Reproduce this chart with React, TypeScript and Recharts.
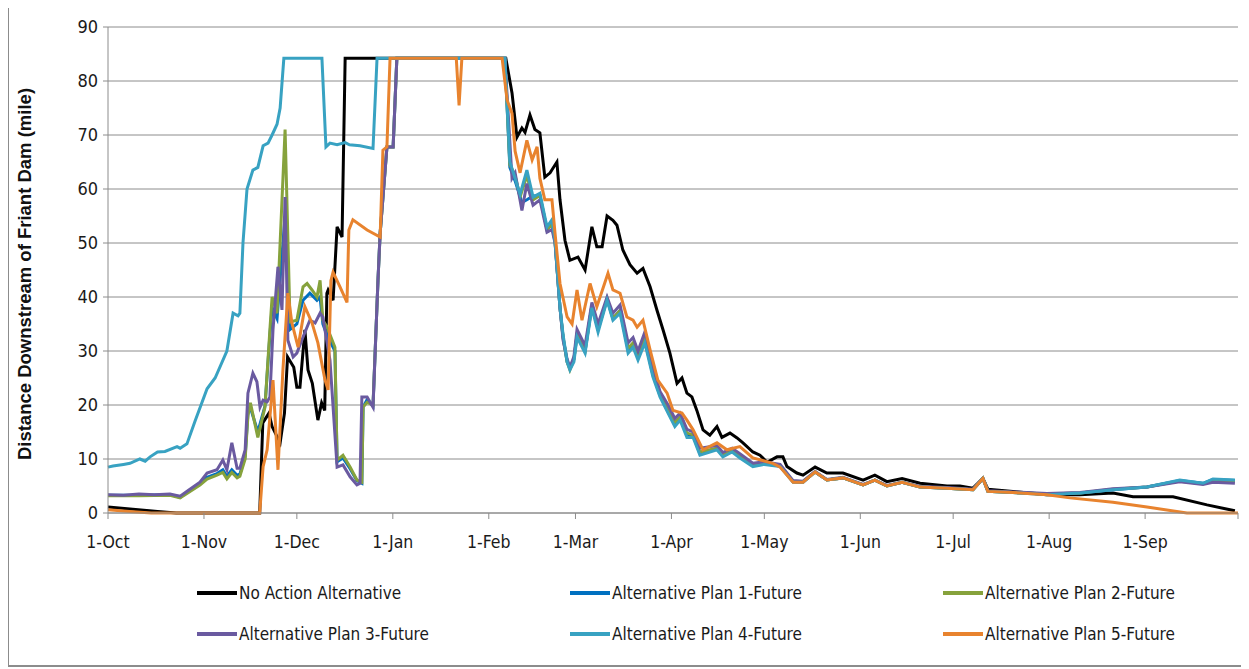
import { LineChart, Line, XAxis, YAxis, CartesianGrid } from 'recharts';

type Pt = [number, number];

// day 0 = 1-Oct
const monthTicks = [0, 31, 61, 92, 123, 151, 182, 212, 243, 273, 304, 335, 365];
const monthLabels = ['1-Oct', '1-Nov', '1-Dec', '1-Jan', '1-Feb', '1-Mar', '1-Apr', '1-May', '1-Jun', '1-Jul', '1-Aug', '1-Sep', ''];
const yTicks = [0, 10, 20, 30, 40, 50, 60, 70, 80, 90];

const noAction: Pt[] = [
  [0, 1.1], [8, 0.7], [16, 0.3], [22, 0], [49, 0], [50, 16.7], [52, 18.5], [53, 16], [55.6, 13], [57, 18.5],
  [58, 28.9], [60, 27], [61, 23.3], [62, 23.3], [63.6, 33.9], [64.6, 26.5], [66, 24], [67.8, 17.2], [69, 20.4],
  [70, 19], [70.7, 40.7], [71.1, 41.3], [72.7, 39.4], [73.3, 45.6], [74, 53], [75.6, 51.1], [76.6, 84.2],
  [128.5, 84.2], [130.5, 77.8], [132.1, 69.6], [133.7, 71.3], [134.7, 70.5], [136.3, 73.7], [137.9, 71],
  [139.5, 70.4], [141.1, 62.2], [142.8, 63], [145, 65], [146, 58], [147.6, 50.5], [149.2, 46.8], [151.8, 47.4],
  [154.1, 45], [156.3, 53], [157.9, 49.3], [159.6, 49.3], [161.2, 55], [163.1, 54.2], [164.4, 53.3],
  [166.3, 48.7], [168.6, 46], [170.9, 44.4], [172.8, 45.3], [175.1, 41.9], [177.3, 37.6], [179.3, 33.9],
  [181.5, 29.6], [183.8, 24], [185.4, 25], [187, 22.2], [188.6, 21.5], [190.2, 19], [192.2, 15.4],
  [194.4, 14.4], [196.7, 16], [198.3, 14], [200.9, 14.8], [203.2, 13.9], [205.1, 13], [208.3, 11.3],
  [210.6, 10.7], [212.9, 9.4], [216.1, 10.4], [218, 10.4], [219.3, 8.6], [222.5, 7.4], [224.5, 7],
  [228.4, 8.5], [232.2, 7.4], [237.4, 7.4], [243.9, 6.1], [247.7, 7], [251.6, 5.8], [256.5, 6.4],
  [262.3, 5.5], [271, 5], [275.2, 5], [279.4, 4.6], [282.6, 6.4], [284.2, 4.4], [292.3, 4], [303.3, 3.4],
  [314, 3.4], [324.6, 3.7], [331.1, 3], [344, 3], [355, 1.5], [364, 0.4],
];

const plan1: Pt[] = [
  [0, 3.3], [10, 3.3], [20, 3.4], [23.3, 2.9], [26, 4], [29.7, 5.4], [32, 6.6], [35.2, 7.3], [37.1, 8],
  [38.4, 6.8], [40, 8], [41.7, 7], [42.6, 7.2], [44.3, 10.5], [45.2, 18.5], [46, 19.5], [48.4, 15],
  [50.7, 19.8], [52.3, 33], [53, 38], [54.6, 36], [57.2, 55], [58.8, 34], [61, 35], [63, 39.4], [65.2, 40.7],
  [67.5, 39.4], [68.5, 40], [69.4, 35], [70.7, 33], [73.3, 30], [74, 9.5], [75.9, 10.2], [78.2, 8.2],
  [80.4, 6], [82, 5.5], [82.4, 19.6], [83.7, 21], [85.6, 19.8], [87.2, 43], [87.9, 51.8], [90.1, 67.8],
  [92.1, 67.8], [93.3, 84.2], [128.2, 84.2], [129.8, 64], [131.5, 61.5], [133.7, 57.5], [135.3, 58],
  [137.3, 58.7], [139.5, 58.8], [141.8, 52.5], [143.4, 53.5], [144.4, 50.2], [146, 38], [147, 32.5],
  [148.3, 28], [149.2, 26.8], [150.5, 28.5], [151.5, 33], [154.1, 30], [156.3, 38.5], [158.3, 34],
  [161.2, 39.6], [163.1, 36], [165.4, 37.5], [168, 30.2], [169.6, 31.2], [171.2, 28.8], [173.4, 32],
  [176, 25.6], [178.3, 21.8], [180.9, 18.8], [183.1, 16.4], [184.8, 17.5], [187, 14.4], [189, 14.3],
  [191.2, 11], [196.7, 11.9], [198.6, 10.6], [201.6, 11.5], [204.1, 10.4], [208.3, 8.8], [212, 9.1],
  [217.1, 8.7], [221.3, 5.8], [224.5, 5.7], [228.4, 7.6], [232.2, 6.1], [237.4, 6.5], [243.9, 5.2],
  [247.7, 6.1], [251.6, 5], [256.5, 5.7], [262.3, 4.8], [271, 4.6], [279.4, 4.3], [282.6, 6.4], [284.2, 4],
  [292.3, 3.8], [303.3, 3.5], [314, 3.7], [324.6, 4.3], [335.6, 4.8], [346.2, 6], [353.7, 5.5],
  [356.9, 6.2], [364, 6],
];

const plan2: Pt[] = [
  [0, 3.2], [10, 3.2], [20, 3.3], [23.3, 2.8], [26, 3.8], [29.7, 5.2], [32, 6.3], [35.2, 7], [37.1, 7.5],
  [38.4, 6.3], [40, 7.5], [41.7, 6.5], [42.6, 6.8], [44.3, 10], [45.2, 18], [46, 20.4], [48.4, 14],
  [50.7, 19.6], [52.3, 34], [53, 40], [54.6, 37], [57.2, 71], [58.8, 35.4], [61, 35.7], [63, 41.9],
  [64.3, 42.5], [65.9, 41.3], [67.5, 40], [68.5, 43.1], [69.4, 35.7], [70.7, 34.5], [73.3, 30.7], [74, 9.8],
  [75.9, 10.7], [78.2, 8.5], [80.4, 6.1], [82, 5.7], [82.4, 19.6], [83.7, 20.5], [85.6, 20], [87.2, 43],
  [87.9, 51.8], [90.1, 67.8], [92.1, 67.8], [93.3, 84.2], [128.2, 84.2], [129.8, 64.5], [131.5, 62.5],
  [133.1, 58.5], [135.3, 62.5], [137.3, 58], [139.5, 58.8], [141.8, 52.5], [143.4, 53.5], [144.4, 50.2],
  [146, 38], [147, 32.5], [148.3, 28], [149.2, 26.5], [150.5, 28.5], [151.5, 33], [154.1, 30], [156.3, 38.5],
  [158.3, 34], [161.2, 39.6], [163.1, 36], [165.4, 37.5], [168, 30.5], [169.6, 31.5], [171.2, 29],
  [173.4, 32.5], [176, 26], [178.3, 22], [180.9, 19], [183.1, 16.8], [184.8, 17.8], [187, 14.8], [189, 14.5],
  [191.2, 11.3], [196.7, 12], [198.6, 10.8], [201.6, 11.6], [204.1, 10.6], [208.3, 8.9], [212, 9.2],
  [217.1, 8.8], [221.3, 5.8], [224.5, 5.8], [228.4, 7.6], [232.2, 6.1], [237.4, 6.5], [243.9, 5.2],
  [247.7, 6.1], [251.6, 5], [256.5, 5.7], [262.3, 4.8], [271, 4.6], [279.4, 4.3], [282.6, 6.4], [284.2, 4],
  [292.3, 3.8], [303.3, 3.5], [314, 3.7], [324.6, 4.4], [335.6, 4.8], [346.2, 5.9], [353.7, 5.4],
  [356.9, 6], [364, 5.8],
];

const plan3: Pt[] = [
  [0, 3.4], [5, 3.3], [10, 3.5], [15, 3.4], [20, 3.5], [23.3, 3.1], [26, 4.2], [29.7, 5.7], [32, 7.4],
  [35.2, 8], [37.1, 9.8], [38.4, 8], [40, 13], [41.7, 8.3], [42.6, 8.3], [44.3, 11.7], [45.2, 22.2],
  [46.8, 25.9], [48.1, 24.3], [49.1, 19.6], [50.1, 20.9], [51.4, 20.6], [52.3, 21.5], [53.3, 34],
  [54.9, 45.6], [56.2, 37.6], [57.2, 58.5], [58.1, 32], [59.8, 28.9], [61, 29.6], [63, 32.6], [65.2, 35.7],
  [66.9, 35.2], [68.5, 37], [69.4, 36.3], [71.7, 28.3], [74, 8.5], [75.9, 8.9], [78.2, 6.7], [80.4, 5.2],
  [81.4, 5.5], [82, 21.5], [83.7, 21.5], [85.6, 19.6], [87.2, 43], [87.9, 51.8], [90.1, 67.8], [92.1, 67.8],
  [93.3, 84.2], [128.2, 84.2], [130.5, 62], [131.5, 63], [133.7, 56], [135.3, 61], [137.3, 57], [139.5, 58],
  [141.8, 52], [143.4, 52.5], [144.4, 50], [146, 38], [147, 32], [148.3, 28.5], [149.2, 27], [150.5, 29],
  [151.5, 34], [154.1, 31], [156.3, 39], [158.3, 35], [161.2, 40], [163.1, 37], [165.4, 38.5], [168, 31.5],
  [169.6, 32.5], [171.2, 30], [173.4, 33.5], [176, 27], [178.3, 22.5], [180.9, 20], [183.1, 17.5],
  [184.8, 18.5], [187, 15.5], [189, 15], [191.2, 12], [196.7, 12.5], [198.6, 11.2], [201.6, 12], [204.1, 11],
  [208.3, 9.2], [212, 9.5], [217.1, 9], [221.3, 6], [224.5, 5.9], [228.4, 7.7], [232.2, 6.2], [237.4, 6.6],
  [243.9, 5.3], [247.7, 6.1], [251.6, 5.1], [256.5, 5.7], [262.3, 4.9], [271, 4.7], [279.4, 4.4],
  [282.6, 6.4], [284.2, 4.1], [292.3, 3.9], [303.3, 3.6], [314, 3.8], [324.6, 4.5], [335.6, 4.8],
  [346.2, 5.8], [353.7, 5.3], [356.9, 5.7], [364, 5.5],
];

const plan4: Pt[] = [
  [0, 8.5], [1.6, 8.7], [5, 9], [7.1, 9.2], [10.3, 10], [12, 9.6], [13.6, 10.4], [16, 11.3], [18.4, 11.4],
  [22.3, 12.3], [23.3, 12], [25.5, 12.8], [28.1, 17], [32, 23], [34.6, 25], [38.4, 30], [40.4, 37], [42, 36.5],
  [42.6, 37], [43.6, 50], [44.9, 60], [46.8, 63.5], [48.4, 64], [50.1, 68], [51.7, 68.5], [53, 70],
  [54.6, 72], [55.6, 75], [56.8, 84.2], [69.1, 84.2], [70.4, 67.8], [71.7, 68.5], [74, 68.2], [76.6, 68.6],
  [78, 68.2], [81.4, 68], [85.6, 67.5], [86.9, 84.2], [128.2, 84.2], [129.8, 65], [131.5, 62], [133.1, 59],
  [135.3, 63.5], [137.3, 58.5], [139.5, 59.2], [141.8, 53], [143.4, 54.3], [144.4, 50.5], [146, 38],
  [147, 33], [148.3, 28], [149.2, 26.5], [150.5, 28], [151.5, 32.6], [154.1, 29.6], [156.3, 38],
  [158.3, 33.5], [161.2, 39.4], [163.1, 35.7], [165.4, 37], [168, 29.6], [169.6, 30.7], [171.2, 28.3],
  [173.4, 31.5], [176, 25.2], [178.3, 21.5], [180.9, 18.5], [183.1, 16], [184.8, 17.2], [187, 14], [189, 14],
  [191.2, 10.7], [196.7, 11.7], [198.6, 10.4], [201.6, 11.3], [204.1, 10.2], [208.3, 8.6], [212, 9],
  [217.1, 8.6], [221.3, 5.7], [224.5, 5.7], [228.4, 7.6], [232.2, 6.1], [237.4, 6.5], [243.9, 5.2],
  [247.7, 6.1], [251.6, 5], [256.5, 5.7], [262.3, 4.8], [271, 4.6], [279.4, 4.3], [282.6, 6.4], [284.2, 4],
  [292.3, 3.8], [303.3, 3.4], [314, 3.7], [324.6, 4.3], [335.6, 4.8], [346.2, 6.1], [353.7, 5.5],
  [356.9, 6.3], [364, 6.1],
];

const plan5: Pt[] = [
  [0, 0.6], [7, 0.3], [14, 0], [49, 0], [50.1, 8.6], [51.4, 11.7], [53.3, 24.6], [54.9, 8], [56.5, 26.5],
  [58.1, 40.7], [59.4, 35.2], [61.4, 30.7], [63.6, 38.2], [65.9, 35.2], [67.8, 31.5], [70.1, 24.6],
  [71.1, 22.8], [72, 43], [72.7, 44.6], [74.9, 41.9], [77.2, 39], [77.8, 52.4], [79.1, 54.3], [83.7, 52.4],
  [87.9, 51.1], [88.8, 67.2], [90.1, 67.8], [91.1, 84.2], [112.5, 84.2], [113.4, 75.5], [114.3, 84.2],
  [127.3, 84.2], [128.9, 76.5], [130.5, 74], [131.5, 67], [133.1, 63], [135.3, 69], [137, 65.4],
  [138.6, 67.8], [139.5, 62], [141.1, 58], [143.4, 58], [144.4, 51.8], [146, 42.5], [148.3, 36.3],
  [149.9, 35], [151.5, 41.3], [153.1, 35.7], [155.7, 42.5], [157.9, 38.2], [161.5, 44.4], [163.1, 41.3],
  [165.4, 40.7], [167.6, 36.3], [169.6, 35.7], [170.9, 34.4], [172.8, 35.7], [175.1, 30.2], [177.6, 24.6],
  [180.6, 22.2], [182.5, 19], [185.4, 18.5], [187, 17.2], [189, 15.4], [192.2, 11.7], [196.7, 13],
  [199.9, 11.7], [204.1, 12.3], [208.3, 10.2], [214.8, 9.2], [217.1, 8.5], [221.3, 5.7], [224.5, 5.7],
  [228.4, 7.6], [232.2, 6.1], [237.4, 6.5], [243.9, 5.2], [247.7, 6.1], [251.6, 5], [256.5, 5.7],
  [262.3, 4.8], [271, 4.6], [279.4, 4.3], [282.6, 6.4], [284.2, 4], [292.3, 3.8], [303.3, 3.4], [310.7, 2.8],
  [324.6, 2], [335.6, 1.1], [348.5, 0], [365, 0],
];

const series = [
  { name: 'No Action Alternative', color: '#000000', points: noAction },
  { name: 'Alternative Plan 1-Future', color: '#0070c0', points: plan1 },
  { name: 'Alternative Plan 2-Future', color: '#86a23c', points: plan2 },
  { name: 'Alternative Plan 3-Future', color: '#6a5aa0', points: plan3 },
  { name: 'Alternative Plan 4-Future', color: '#38a2c2', points: plan4 },
  { name: 'Alternative Plan 5-Future', color: '#e8832e', points: plan5 },
];

const font = "'DejaVu Sans Condensed', 'Liberation Sans Narrow', sans-serif";
const axisGray = '#8c8c8c';

const legendCols = [188, 561, 934];
const legendRows = [588, 629];

const App = () => {
  return (
    <div
      style={{
        position: 'relative',
        width: 1241,
        height: 664,
        marginTop: -5,
        marginLeft: -1,
        border: `2px solid ${axisGray}`,
        boxSizing: 'border-box',
        background: '#fff',
        fontFamily: font,
      }}
    >
      <div
        style={{
          position: 'absolute',
          left: -234,
          top: 258,
          width: 500,
          height: 22,
          lineHeight: '22px',
          textAlign: 'center',
          transform: 'rotate(-90deg)',
          fontFamily: "'Liberation Sans', Arial, sans-serif",
          fontWeight: 'bold',
          fontSize: 18.5,
          color: '#111',
        }}
      >
        Distance Downstream of Friant Dam (mile)
      </div>
      <div style={{ position: 'absolute', left: 0, top: 0 }}>
        <LineChart width={1237} height={560} margin={{ top: 22, right: 8, left: 0, bottom: 22 }}>
          <CartesianGrid vertical={false} stroke={axisGray} strokeWidth={1} />
          <XAxis
            type="number"
            dataKey="day"
            domain={[0, 365]}
            ticks={monthTicks}
            interval={0}
            tickFormatter={(v: number) => monthLabels[monthTicks.indexOf(v)] ?? ''}
            height={30}
            tickSize={6}
            tickMargin={17}
            stroke={axisGray}
            tick={{ fill: '#1a1a1a', fontSize: 17.5, fontFamily: font }}
          />
          <YAxis
            type="number"
            domain={[0, 90]}
            ticks={yTicks}
            interval={0}
            width={99}
            tickSize={5}
            tickMargin={5}
            stroke={axisGray}
            tick={{ fill: '#1a1a1a', fontSize: 18, fontFamily: font }}
          />
          {series.map((s) => (
            <Line
              key={s.name}
              name={s.name}
              data={s.points.map(([day, v]) => ({ day, v }))}
              dataKey="v"
              type="linear"
              stroke={s.color}
              strokeWidth={3}
              dot={false}
              isAnimationActive={false}
            />
          ))}
        </LineChart>
      </div>
      {series.map((s, i) => (
        <div
          key={s.name}
          style={{
            position: 'absolute',
            left: legendCols[i % 3],
            top: legendRows[Math.floor(i / 3)] - 12,
            height: 24,
            display: 'flex',
            alignItems: 'center',
            whiteSpace: 'nowrap',
          }}
        >
          <div style={{ width: 40, height: 4, background: s.color, marginRight: 2 }} />
          <span style={{ fontSize: 17, color: '#1a1a1a' }}>{s.name}</span>
        </div>
      ))}
    </div>
  );
};

export default App;
